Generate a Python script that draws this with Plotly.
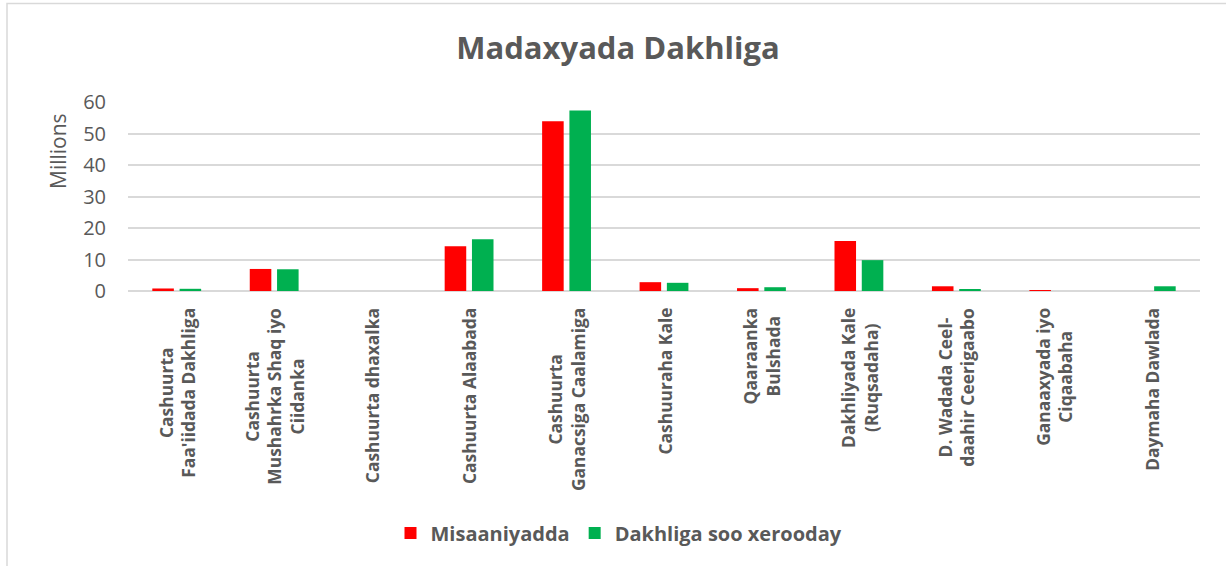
import plotly.graph_objects as go

categories = [
    "Cashuurta<br>Faa'iidada Dakhliga",
    "Cashuurta<br>Mushahrka Shaq iyo<br>Ciidanka",
    "Cashuurta dhaxalka",
    "Cashuurta Alaabada",
    "Cashuurta<br>Ganacsiga Caalamiga",
    "Cashuuraha Kale",
    "Qaaraanka<br>Bulshada",
    "Dakhliyada Kale<br>(Ruqsadaha)",
    "D. Wadada Ceel-<br>daahir Ceerigaabo",
    "Ganaaxyada iyo<br>Ciqaabaha",
    "Daymaha Dawlada",
]
misaaniyadda = [0.8, 7.0, 0.0, 14.2, 53.9, 2.8, 0.9, 15.9, 1.5, 0.2, 0.0]
dakhliga = [0.7, 6.9, 0.0, 16.4, 57.3, 2.6, 1.2, 9.8, 0.6, 0.0, 1.5]
y_ticks = [0, 10, 20, 30, 40, 50, 60]

FONT = "Open Sans"
GREY = "#595959"
W, H = 1226, 566
L, R, T, B = 128, 26, 102, 275
PW = W - L - R
PH = H - T - B

fig = go.Figure()
fig.add_trace(go.Bar(x=categories, y=misaaniyadda, name="Misaaniyadda",
                     marker=dict(color="#FF0000", line=dict(width=0))))
fig.add_trace(go.Bar(x=categories, y=dakhliga, name="Dakhliga soo xerooday",
                     marker=dict(color="#00B050", line=dict(width=0))))


def px_to_paper_x(px):
    return (px - L) / PW


def px_to_paper_y(py):
    return (H - B - py) / PH


annotations = []
for c in categories:
    annotations.append(dict(
        x=c, xref="x", y=0, yref="paper", yanchor="top", xanchor="center",
        yshift=-15, text=c, textangle=-90, align="center",
        showarrow=False, font=dict(family=FONT, size=17.4, color=GREY, weight="bold")))

annotations.append(dict(
    x=px_to_paper_x(57.5), xref="paper", y=px_to_paper_y(151.5), yref="paper",
    xanchor="center", yanchor="middle", text="Millions", textangle=-90,
    showarrow=False, font=dict(family=FONT, size=21, color=GREY)))

shapes = [dict(type="rect", xref="paper", yref="paper",
               x0=px_to_paper_x(7), x1=px_to_paper_x(1300),
               y0=px_to_paper_y(700), y1=px_to_paper_y(3.5),
               line=dict(color="#d9d9d9", width=1.5), fillcolor="rgba(0,0,0,0)",
               layer="below")]

fig.update_layout(
    width=W, height=H,
    margin=dict(l=L, r=R, t=T, b=B, autoexpand=False),
    paper_bgcolor="white", plot_bgcolor="white",
    title=dict(text="Madaxyada Dakhliga", x=618 / W, xref="container",
               xanchor="center", y=1 - 48 / H, yref="container", yanchor="middle",
               font=dict(family=FONT, size=31, color=GREY, weight="bold")),
    barmode="group", bargap=0.44, bargroupgap=0.21,
    xaxis=dict(showticklabels=False, showgrid=False, showline=False, ticks="",
               zeroline=False),
    yaxis=dict(range=[0, 60], tickvals=y_ticks, showgrid=True, gridcolor="#d9d9d9",
               gridwidth=1.5, zeroline=True, zerolinecolor="#d9d9d9", zerolinewidth=1.5,
               showline=False, ticks="", ticklabelstandoff=21,
               tickfont=dict(family=FONT, size=20, color=GREY)),
    legend=dict(orientation="h", x=px_to_paper_x(619), xanchor="center",
                y=px_to_paper_y(533), yanchor="middle",
                font=dict(family=FONT, size=20, color=GREY, weight="bold"),
                itemwidth=30, traceorder="normal"),
    annotations=annotations,
    shapes=shapes,
    font=dict(family=FONT, color=GREY),
)

fig.write_html("out.html", config={"displayModeBar": False},
               post_script="document.body.style.margin='0';document.body.style.overflow='hidden';")
